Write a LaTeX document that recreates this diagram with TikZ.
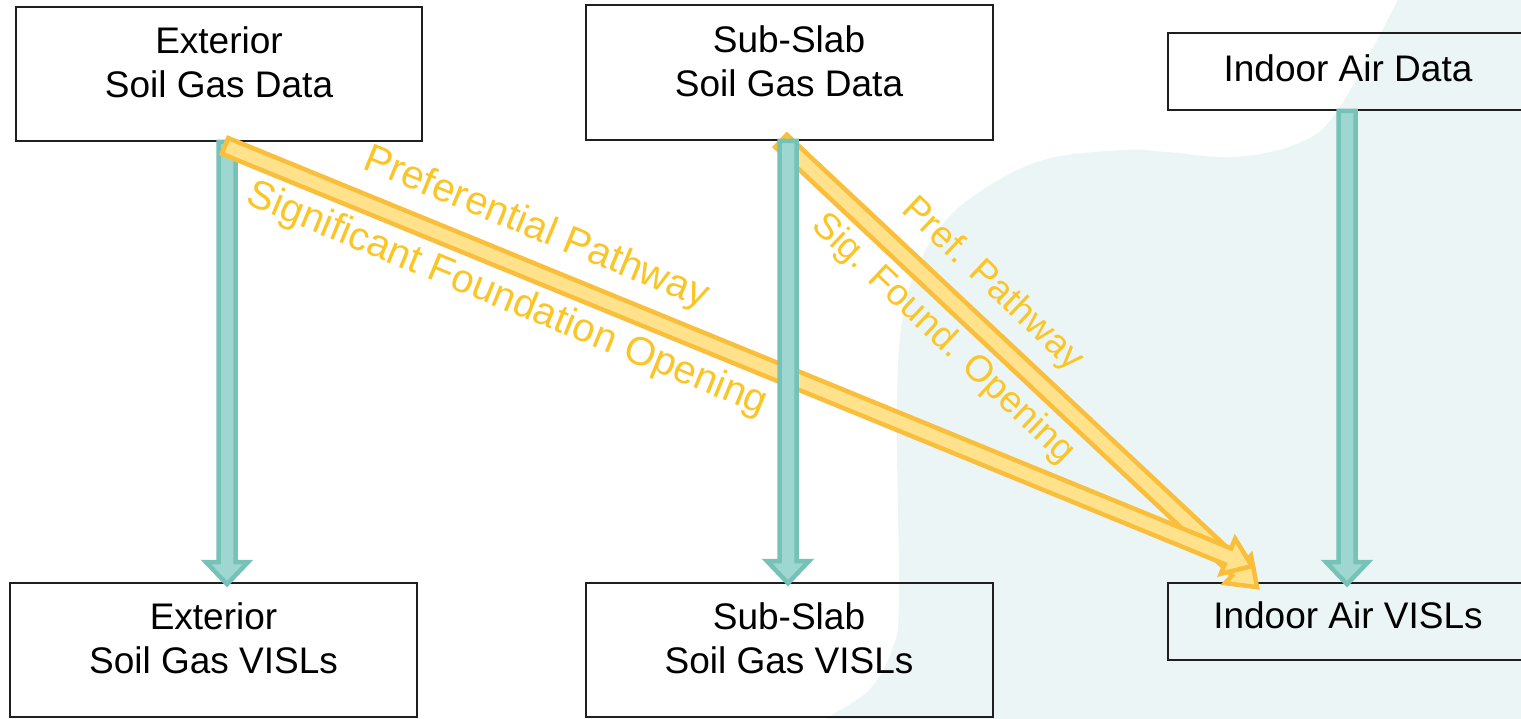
\documentclass[tikz,border=0pt]{standalone}
\usepackage{fontspec}
\setmainfont{Liberation Sans}
\usetikzlibrary{calc}
\definecolor{blobc}{RGB}{235,245,246}
\definecolor{tealb}{RGB}{118,194,183}
\definecolor{tealf}{RGB}{158,215,209}
\definecolor{yelb}{RGB}{249,190,59}
\definecolor{yelf}{RGB}{255,226,139}
\definecolor{yeltext}{RGB}{251,197,38}
% #1 tail, #2 tip, #3 half width, #4 head half width, #5 head length, #6 style
\newcommand{\blockarrow}[6]{%
  \path ($(#2)!#5!(#1)$) coordinate (bab);
  \filldraw[#6] ($(#1)!#3!90:(#2)$) -- ($(bab)!#3!-90:(#1)$) -- ($(bab)!#4!-90:(#1)$)
    -- (#2) -- ($(bab)!#4!90:(#1)$) -- ($(bab)!#3!90:(#1)$) -- ($(#1)!#3!-90:(#2)$) -- cycle;
}
\begin{document}
\begin{tikzpicture}[x=1pt,y=-1pt,
  box/.style={draw=black!88, line width=1.8pt, inner sep=0pt},
  lbl/.style={font=\fontsize{37}{44}\selectfont, align=center, inner sep=0pt},
  ylbl/.style={font=\fontsize{40}{46}\selectfont, inner sep=0pt, text=yeltext},
  ylbls/.style={font=\fontsize{37}{44}\selectfont, inner sep=0pt, text=yeltext},
  tealarrow/.style={fill=tealf, draw=tealb, line width=4.5pt, line join=miter},
  yelarrow/.style={fill=yelf, draw=yelb, line width=4.5pt, line join=miter}]
\useasboundingbox (0,0) rectangle (1521,718);
\clip (0,0) rectangle (1521,718);
% background blob
\fill[blobc] plot[smooth, tension=0.6] coordinates {(1410,-20) (1398,0) (1338,110) (1299,143) (1235,157) (1167,152) (1124,150) (1043,160) (978,193) (936,233) (906,300) (897,400) (899,600) (892,650) (869,690) (828,718) (810,740)}
  -- (1540,740) -- (1540,-20) -- cycle;
% boxes
\node[box, minimum width=406pt, minimum height=134pt] (exd) at (219,74) {};
\node[box, minimum width=407pt, minimum height=135pt] (ssd) at (789.5,72.5) {};
\node[box, minimum width=372pt, minimum height=77pt] (iad) at (1354,71.5) {};
\node[box, minimum width=407pt, minimum height=134pt] (exv) at (213.5,650) {};
\node[box, minimum width=407pt, minimum height=134pt] (ssv) at (789.5,650) {};
\node[box, minimum width=372pt, minimum height=77pt] (iav) at (1354,621.5) {};
% box texts
\node[lbl] (exdt) at (219,62) {Exterior\\Soil Gas Data};
\node[lbl] (ssdt) at (789,61) {Sub-Slab\\Soil Gas Data};
\node[lbl] (iadt) at (1348,68.5) {Indoor Air Data};
\node[lbl] (exvt) at (213.5,638.5) {Exterior\\Soil Gas VISLs};
\node[lbl] (ssvt) at (789,638) {Sub-Slab\\Soil Gas VISLs};
\node[lbl] (iavt) at (1348,615) {Indoor Air VISLs};
% arrow end points
\coordinate (t1s) at ($(exd.south)+(8,0)$);
\coordinate (t1e) at ($(exv.north)+(13.5,2)$);
\coordinate (t2s) at ($(ssd.south)+(-1.5,0)$);
\coordinate (t2e) at ($(ssv.north)+(-1.5,1)$);
\coordinate (t3s) at ($(iad.south)+(-7,0)$);
\coordinate (t3e) at ($(iav.north)+(-7,2)$);
\coordinate (y1s) at ($(exd.south)+(6,4)$);
\coordinate (y1e) at ($(iav.north)+(-102,-16)$);
\coordinate (y2s) at ($(ssd.south)+(-8.5,0)$);
\coordinate (y2e) at ($(iav.north)+(-97,5)$);
% arrows
\blockarrow{t1s}{t1e}{8.5pt}{21pt}{22pt}{tealarrow}
\blockarrow{y2s}{y2e}{8.5pt}{19pt}{26pt}{yelarrow}
\blockarrow{y1s}{y1e}{8.5pt}{19pt}{26pt}{yelarrow}
\blockarrow{t2s}{t2e}{8.5pt}{21pt}{22pt}{tealarrow}
\blockarrow{t3s}{t3e}{8.5pt}{21pt}{22pt}{tealarrow}
% arrow labels
\node[ylbl, rotate=-22.3] (l1a) at (536,229) {Preferential Pathway};
\node[ylbl, rotate=-22.3] (l1b) at (507,300) {Significant Foundation Opening};
\node[ylbls, rotate=-43.3] (l2a) at (992,285) {Pref. Pathway};
\node[ylbls, rotate=-43.3] (l2b) at (943,339) {Sig. Found. Opening};
\end{tikzpicture}
\end{document}
